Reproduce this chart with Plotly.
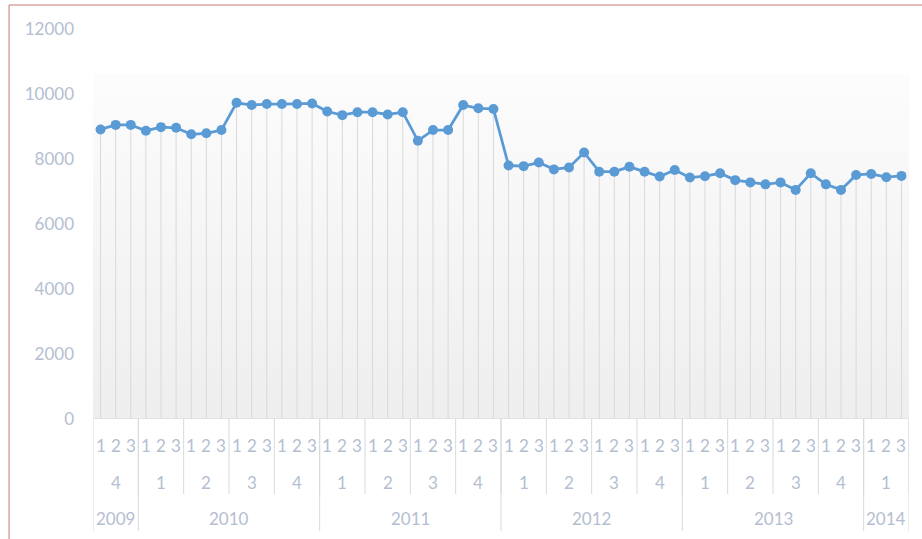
import plotly.graph_objects as go

# ---- data ----
years = ["2009", "2010", "2011", "2012", "2013", "2014"]
quarters_per_year = [["4"], ["1", "2", "3", "4"], ["1", "2", "3", "4"],
                     ["1", "2", "3", "4"], ["1", "2", "3", "4"], ["1"]]
months = ["1", "2", "3"]
values = [8910, 9050, 9050,
          8870, 8980, 8960, 8760, 8790, 8890, 9730, 9660, 9690, 9690, 9690, 9710,
          9460, 9350, 9440, 9440, 9370, 9440, 8560, 8890, 8890, 9660, 9560, 9540,
          7800, 7780, 7890, 7680, 7740, 8200, 7610, 7610, 7760, 7610, 7460, 7660,
          7430, 7470, 7560, 7350, 7280, 7220, 7280, 7050, 7560, 7220, 7050, 7510,
          7540, 7440, 7480]
y_ticks = [0, 2000, 4000, 6000, 8000, 10000, 12000]

LABEL = "#b4bed1"
SEP = "#d9d9d9"
BLUE = "#5b9bd5"
FONT = "Lato"

n = len(values)
x = list(range(n))

fig = go.Figure()

# background gradient band
fig.add_trace(go.Scatter(
    x=[-0.5, n - 0.35, n - 0.35, -0.5, -0.5], y=[0, 0, 10620, 10620, 0],
    mode="lines", line=dict(width=0), fill="toself",
    fillgradient=dict(type="vertical", colorscale=[[0, "#eeeeee"], [1, "#fcfcfc"]]),
    hoverinfo="skip", showlegend=False))

# drop lines
dx, dy = [], []
for i, v in enumerate(values):
    dx += [i, i, None]
    dy += [0, v, None]
fig.add_trace(go.Scatter(x=dx, y=dy, mode="lines", line=dict(color=SEP, width=1),
                         hoverinfo="skip", showlegend=False))

# main series
fig.add_trace(go.Scatter(x=x, y=values, mode="lines+markers",
                         line=dict(color=BLUE, width=2.8),
                         marker=dict(color=BLUE, size=10),
                         showlegend=False))

annotations = []
shapes = []

# month labels
for i in range(n):
    annotations.append(dict(x=i, y=0, xref="x", yref="paper", yshift=-26,
                            yanchor="middle",
                            text=months[i % 3], showarrow=False,
                            font=dict(family=FONT, size=17, color=LABEL)))

# quarter labels and year labels
idx = 0
year_bounds = [-0.5]
for yr, qs in zip(years, quarters_per_year):
    start = idx
    for q in qs:
        annotations.append(dict(x=idx + 1, y=0, xref="x", yref="paper", yshift=-63,
                                yanchor="middle",
                                text=q, showarrow=False,
                                font=dict(family=FONT, size=17, color=LABEL)))
        shapes.append(dict(type="line", xref="x", yref="paper", ysizemode="pixel",
                           yanchor=0, x0=idx + 2.5, x1=idx + 2.5, y0=0, y1=-75,
                           line=dict(color=SEP, width=1)))
        idx += 3
    annotations.append(dict(x=(start + idx - 1) / 2, y=0, xref="x", yref="paper",
                            yshift=-99, yanchor="middle", text=yr, showarrow=False,
                            font=dict(family=FONT, size=17, color=LABEL)))
    year_bounds.append(idx - 0.5)

for b in year_bounds:
    shapes.append(dict(type="line", xref="x", yref="paper", ysizemode="pixel",
                       yanchor=0, x0=b, x1=b, y0=0, y1=-112,
                       line=dict(color=SEP, width=1)))

# axis line
shapes.append(dict(type="line", xref="x", yref="y", x0=-0.5, x1=n - 0.5, y0=0, y1=0,
                   line=dict(color=SEP, width=1)))

# outer border (left and top)
shapes.append(dict(type="line", xref="paper", yref="paper", x0=-0.1029, x1=-0.1029,
                   y0=1.0615, y1=-0.35, line=dict(color="#c47a78", width=1)))
shapes.append(dict(type="line", xref="paper", yref="paper", x0=-0.1029, x1=1.03,
                   y0=1.0615, y1=1.0615, line=dict(color="#c47a78", width=1)))

fig.update_layout(
    width=922, height=539,
    margin=dict(l=93, r=13, t=29, b=120),
    paper_bgcolor="white", plot_bgcolor="white",
    xaxis=dict(range=[-0.5, n - 0.5], showticklabels=False, showgrid=False,
               zeroline=False, showline=False, ticks=""),
    yaxis=dict(range=[0, 12000], tickvals=y_ticks, tickformat="d",
               showgrid=False, zeroline=False,
               showline=False, ticks="", ticklabelstandoff=18,
               tickfont=dict(family=FONT, size=17, color=LABEL)),
    annotations=annotations, shapes=shapes,
)

fig.write_html("out.html", config={"displayModeBar": False},
               post_script="document.body.style.margin='0';document.body.style.overflow='hidden';")
